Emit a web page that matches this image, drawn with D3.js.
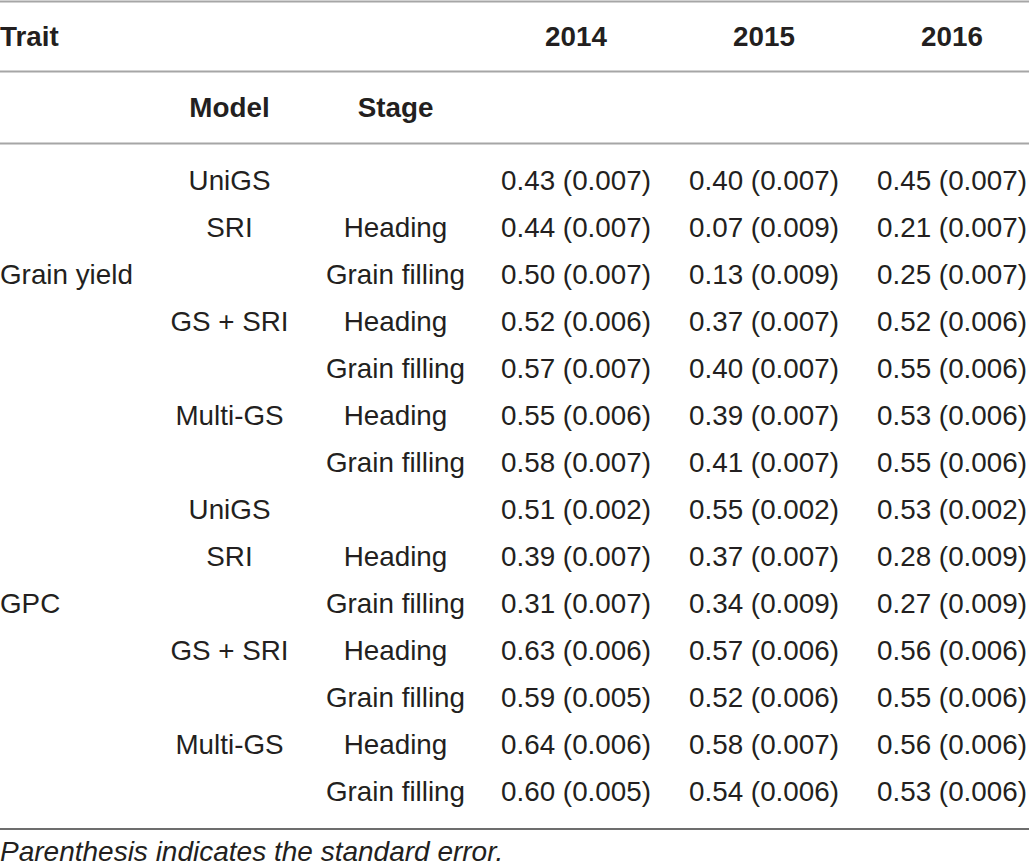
<!DOCTYPE html>
<html><head><meta charset="utf-8">
<script src="https://cdn.jsdelivr.net/npm/d3@7"></script>
<style>body{margin:0;background:#fff;} svg{display:block;}</style>
</head><body>
<script>
const years = ["2014","2015","2016"];
const traits = ["Grain yield","GPC"];
const models = ["UniGS","SRI","","GS + SRI","","Multi-GS",""];
const stages = ["","Heading","Grain filling","Heading","Grain filling","Heading","Grain filling"];
const gyMean = [[0.43,0.40,0.45],[0.44,0.07,0.21],[0.50,0.13,0.25],[0.52,0.37,0.52],[0.57,0.40,0.55],[0.55,0.39,0.53],[0.58,0.41,0.55]];
const gySE   = [[0.007,0.007,0.007],[0.007,0.009,0.007],[0.007,0.009,0.007],[0.006,0.007,0.006],[0.007,0.007,0.006],[0.006,0.007,0.006],[0.007,0.007,0.006]];
const gpcMean = [[0.51,0.55,0.53],[0.39,0.37,0.28],[0.31,0.34,0.27],[0.63,0.57,0.56],[0.59,0.52,0.55],[0.64,0.58,0.56],[0.60,0.54,0.53]];
const gpcSE   = [[0.002,0.002,0.002],[0.007,0.007,0.009],[0.007,0.009,0.009],[0.006,0.006,0.006],[0.005,0.006,0.006],[0.006,0.007,0.006],[0.005,0.006,0.006]];
const note = "Parenthesis indicates the standard error.";

const W = 1029, H = 868;
const svg = d3.select("body").append("svg").attr("width", W).attr("height", H);
const font = "'Liberation Sans', Arial, Helvetica, sans-serif";
const txt = "#231f20";

const rows = [];
[[gyMean, gySE], [gpcMean, gpcSE]].forEach(([m, s], t) => {
  m.forEach((vals, i) => rows.push({trait: i === 2 ? traits[t] : "", model: models[i], stage: stages[i],
    vals: vals.map((v, j) => v.toFixed(2) + " (" + s[i][j].toFixed(3) + ")")}));
});

const y = d3.scalePoint().domain(d3.range(rows.length)).range([180, 791]);
const colX = {model: 229.5, stage: 395.5};
const xYear = d3.scalePoint().domain(years).range([576, 952]);

// rules
const lines = [{y:1.5,c:"#a6a6a6"},{y:71.5,c:"#a6a6a6"},{y:143.5,c:"#a6a6a6"},{y:829,c:"#6d6d6d"}];
svg.selectAll("line.rule").data(lines).join("line").attr("class","rule")
  .attr("x1",0).attr("x2",W).attr("y1",d=>d.y).attr("y2",d=>d.y)
  .attr("stroke",d=>d.c).attr("stroke-width",2);

const fs = 27.8;
function T(x, yy, s, anchor, bold, italic) {
  svg.append("text").attr("x", x).attr("y", yy).attr("dy","0.35em")
    .attr("text-anchor", anchor).attr("font-family", font).attr("font-size", italic ? 28 : fs)
    .attr("font-weight", bold ? "bold" : "normal").attr("font-style", italic ? "italic" : "normal")
    .attr("fill", txt).text(s);
}
// headers
T(0, 36, "Trait", "start", true);
years.forEach(yr => T(xYear(yr), 36, yr, "middle", true));
T(colX.model, 107, "Model", "middle", true);
T(colX.stage, 107, "Stage", "middle", true);

rows.forEach((r, i) => {
  const yy = y(i);
  if (r.trait) T(0, yy, r.trait, "start");
  if (r.model) T(colX.model, yy, r.model, "middle");
  if (r.stage) T(colX.stage, yy, r.stage, "middle");
  r.vals.forEach((v, j) => T(xYear(years[j]), yy, v, "middle"));
});

T(0, 851, note, "start", false, true);
</script>
</body></html>
